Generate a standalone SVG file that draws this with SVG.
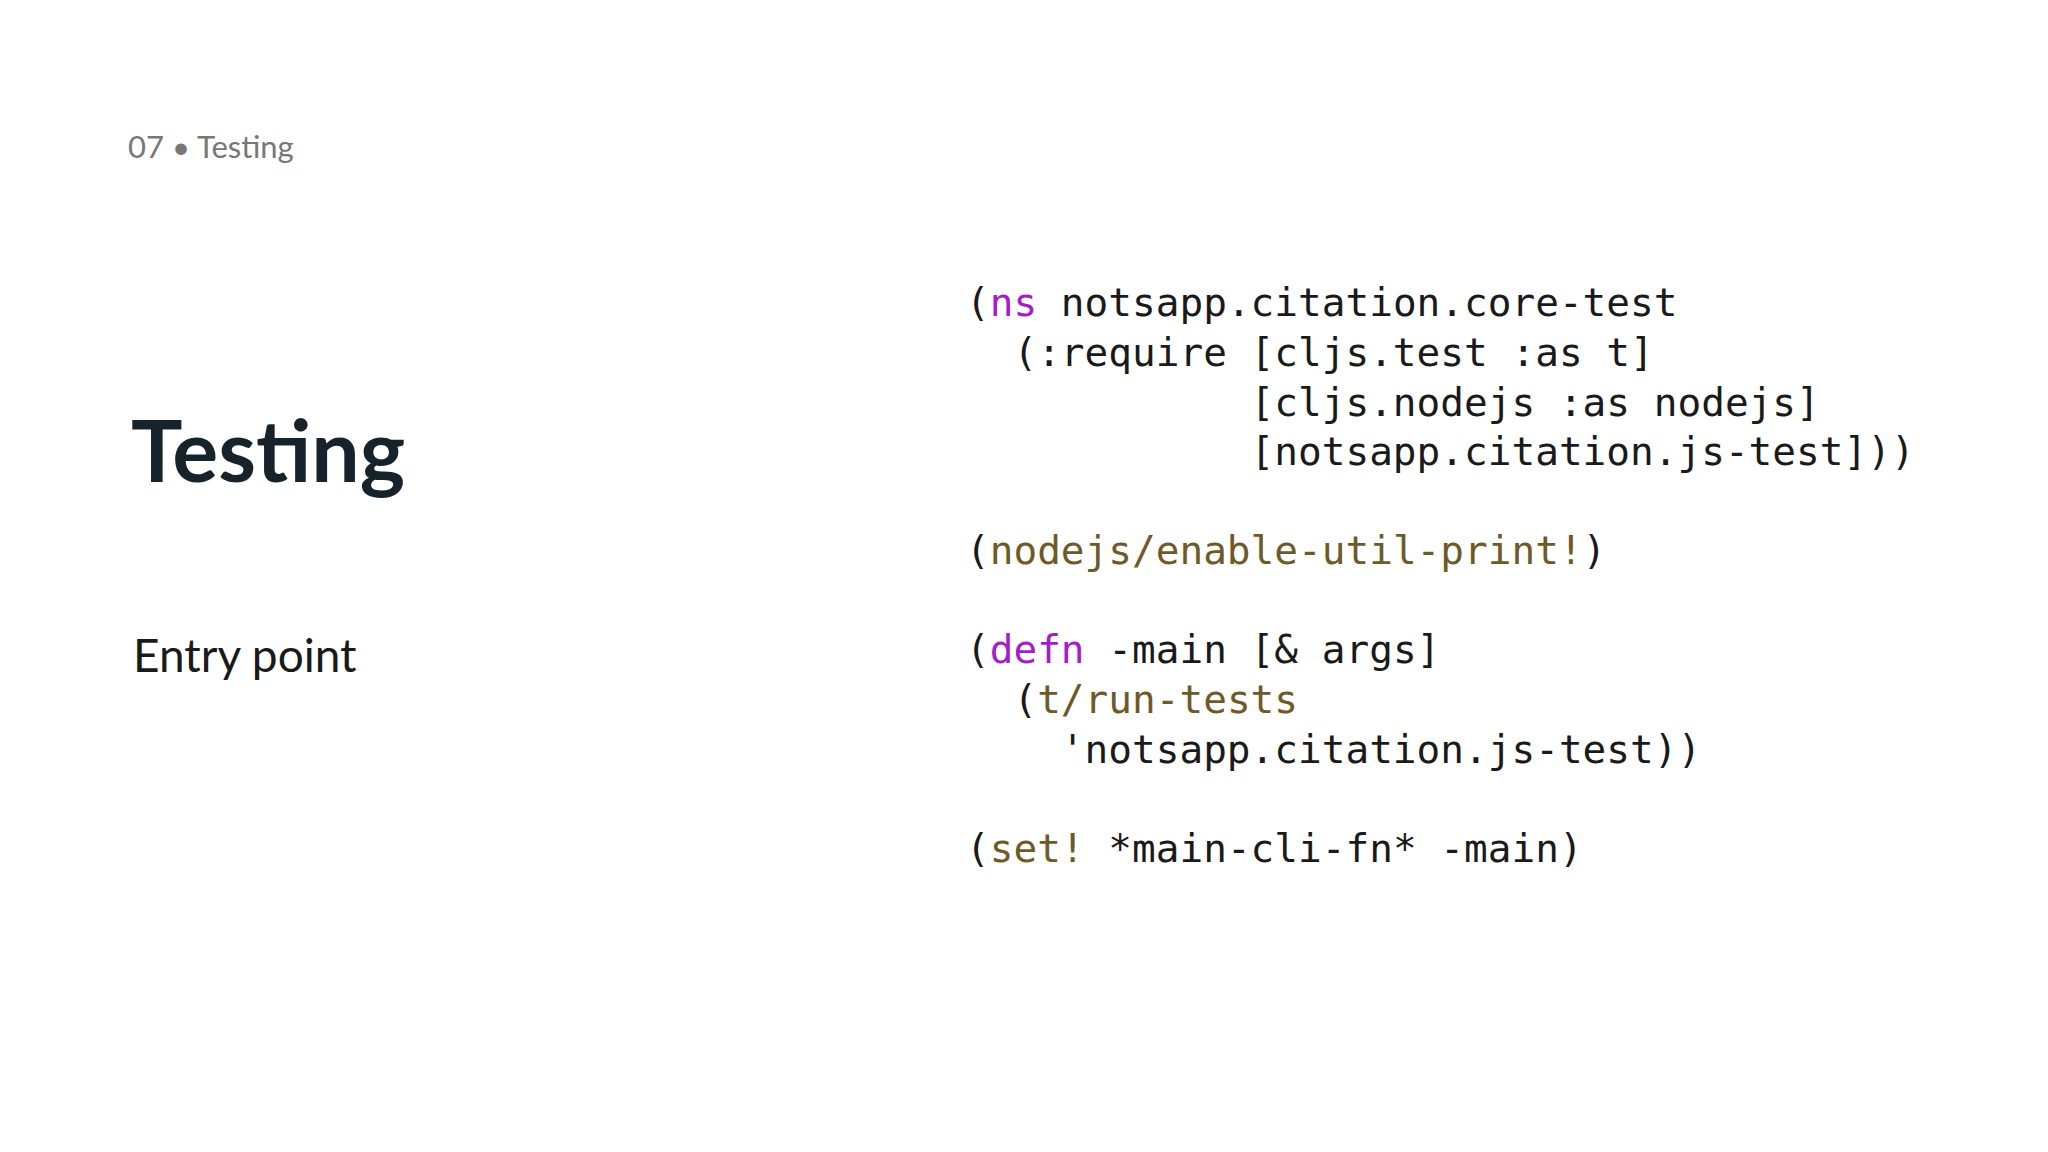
<svg xmlns="http://www.w3.org/2000/svg" width="2048" height="1152" viewBox="0 0 2048 1152">
<style>
.c{font-family:"DejaVu Sans Mono","Liberation Mono",monospace;font-size:39.4px;fill:#1a1a1a;white-space:pre}
.k{fill:#a41ccc}.f{fill:#6e5a28}
</style>
<rect width="2048" height="1152" fill="#ffffff"/>
<g id="header"><text x="128" y="158" font-family="Lato,'Noto Sans',sans-serif" font-size="31" fill="#777">07 • Testing</text></g>
<g id="title"><text x="131" y="482" font-family="Lato,'Noto Sans',sans-serif" font-size="86" font-weight="bold" fill="#16232a">Testing</text></g>
<g id="subtitle"><text x="133" y="672" font-family="Lato,'Noto Sans',sans-serif" font-size="46" fill="#1a1a1a">Entry point</text></g>
<g id="code">
<text class="c" x="966" y="316">(<tspan class="k">ns</tspan> notsapp.citation.core-test</text>
<text class="c" x="966" y="366">  (:require [cljs.test :as t]</text>
<text class="c" x="966" y="416">            [cljs.nodejs :as nodejs]</text>
<text class="c" x="966" y="465">            [notsapp.citation.js-test]))</text>
<text class="c" x="966" y="564">(<tspan class="f">nodejs/enable-util-print!</tspan>)</text>
<text class="c" x="966" y="663">(<tspan class="k">defn</tspan> -main [&amp; args]</text>
<text class="c" x="966" y="713">  (<tspan class="f">t/run-tests</tspan></text>
<text class="c" x="966" y="763">    'notsapp.citation.js-test))</text>
<text class="c" x="966" y="862">(<tspan class="f">set!</tspan> *main-cli-fn* -main)</text>
</g>
</svg>
